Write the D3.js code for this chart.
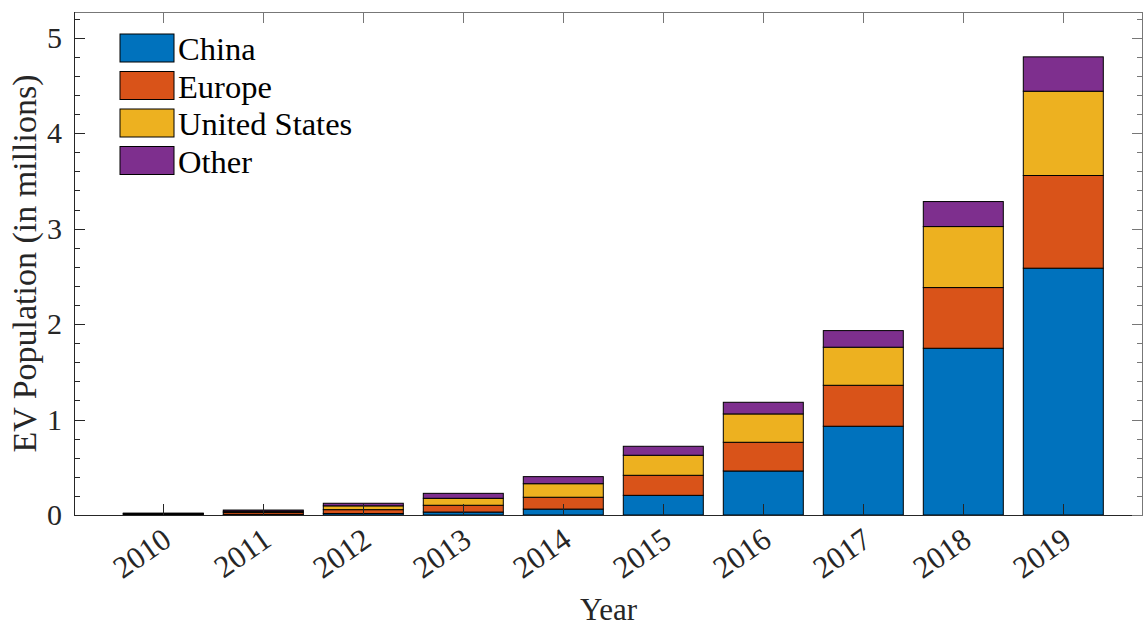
<!DOCTYPE html>
<html>
<head>
<meta charset="utf-8">
<script src="https://cdn.jsdelivr.net/npm/d3@7"></script>
<style>
  body { margin: 0; background: #fff; }
  svg { display: block; font-family: "Liberation Serif", "Times New Roman", serif; }
</style>
</head>
<body>
<svg id="chart" width="1144" height="626"></svg>
<script>
// EV stock by region, millions
const years = [2010, 2011, 2012, 2013, 2014, 2015, 2016, 2017, 2018, 2019];
const china = [0.002, 0.007, 0.016, 0.031, 0.062, 0.206, 0.461, 0.930, 1.747, 2.586];
const europe = [0.010, 0.020, 0.040, 0.071, 0.124, 0.210, 0.301, 0.429, 0.636, 0.971];
const unitedStates = [0.003, 0.012, 0.040, 0.073, 0.142, 0.210, 0.297, 0.399, 0.639, 0.883];
const other = [0.005, 0.013, 0.027, 0.052, 0.074, 0.094, 0.122, 0.174, 0.262, 0.360];
const seriesNames = ["China", "Europe", "United States", "Other"];
const colors = ["#0072BD", "#D95319", "#EDB120", "#7E2F8E"];
const yTicks = [0, 1, 2, 3, 4, 5];

const rows = years.map((yr, i) => ({
  year: yr,
  "China": china[i],
  "Europe": europe[i],
  "United States": unitedStates[i],
  "Other": other[i]
}));

const pLeft = 74, pRight = 1143, pTop = 12, pBottom = 515;
const svg = d3.select("#chart");

const x = d3.scaleLinear().domain([2009.107, 2019.797]).range([pLeft, pRight]);
const y = d3.scaleLinear().domain([0, 5.27]).range([pBottom, pTop]);
const barW = x(2010.8) - x(2010);

const stacked = d3.stack().keys(seriesNames)(rows);

svg.append("g")
  .selectAll("g")
  .data(stacked)
  .join("g")
  .attr("fill", (d, i) => colors[i])
  .selectAll("rect")
  .data(d => d)
  .join("rect")
  .attr("x", d => x(d.data.year) - barW / 2)
  .attr("y", d => y(d[1]))
  .attr("width", barW)
  .attr("height", d => y(d[0]) - y(d[1]))
  .attr("stroke", "#000")
  .attr("stroke-width", 1);

// axes box + ticks (drawn over bars like matlab)
const axisColor = "#262626";
const ax = svg.append("g").attr("stroke", axisColor).attr("stroke-width", 1).attr("fill", "none");
ax.append("rect")
  .attr("x", pLeft + 0.5).attr("y", pTop + 0.5)
  .attr("width", pRight - pLeft - 1).attr("height", pBottom - pTop)
  .attr("stroke", "#777");
ax.append("line").attr("x1", pLeft + 0.5).attr("x2", pLeft + 0.5).attr("y1", pTop).attr("y2", pBottom + 0.5);
ax.append("line").attr("x1", pLeft).attr("x2", pRight).attr("y1", pBottom + 0.5).attr("y2", pBottom + 0.5);

const majLen = 11, minLen = 6;
const minorTicks = d3.range(0, 5.21, 0.2).filter(v => Math.abs(v - Math.round(v)) > 0.01);

yTicks.forEach(v => {
  const yy = Math.round(y(v)) + 0.5;
  ax.append("line").attr("x1", pLeft).attr("x2", pLeft + majLen).attr("y1", yy).attr("y2", yy);
  ax.append("line").attr("x1", pRight).attr("x2", pRight - majLen).attr("y1", yy).attr("y2", yy).attr("stroke", "#777");
});
minorTicks.forEach(v => {
  const yy = Math.round(y(v)) + 0.5;
  ax.append("line").attr("x1", pLeft).attr("x2", pLeft + minLen).attr("y1", yy).attr("y2", yy);
  ax.append("line").attr("x1", pRight).attr("x2", pRight - minLen).attr("y1", yy).attr("y2", yy).attr("stroke", "#777");
});
years.forEach(yr => {
  const xx = Math.round(x(yr)) + 0.5;
  ax.append("line").attr("x1", xx).attr("x2", xx).attr("y1", pBottom).attr("y2", pBottom - majLen);
  ax.append("line").attr("x1", xx).attr("x2", xx).attr("y1", pTop).attr("y2", pTop + majLen).attr("stroke", "#777");
});

// tick labels
svg.append("g")
  .selectAll("text")
  .data(yTicks)
  .join("text")
  .attr("x", pLeft - 12)
  .attr("y", d => y(d) + 10)
  .attr("text-anchor", "end")
  .attr("font-size", 30)
  .attr("fill", "#262626")
  .text(d => d);

svg.append("g")
  .selectAll("text")
  .data(years)
  .join("text")
  .attr("transform", d => `translate(${x(d) + 10},${pBottom + 29}) rotate(-35)`)
  .attr("text-anchor", "end")
  .attr("font-size", 31)
  .attr("fill", "#262626")
  .text(d => d);

// axis titles
svg.append("text")
  .attr("x", (pLeft + pRight) / 2)
  .attr("y", 620)
  .attr("text-anchor", "middle")
  .attr("font-size", 31)
  .attr("fill", "#262626")
  .text("Year");

svg.append("text")
  .attr("transform", `translate(36,${(pTop + pBottom) / 2}) rotate(-90)`)
  .attr("text-anchor", "middle")
  .attr("font-size", 34)
  .attr("fill", "#262626")
  .text("EV Population (in millions)");

// legend
const legend = svg.append("g").attr("transform", "translate(120,34)");
const item = legend.selectAll("g")
  .data(seriesNames)
  .join("g")
  .attr("transform", (d, i) => `translate(0,${i * 37.5})`);
item.append("rect")
  .attr("width", 54).attr("height", 28)
  .attr("fill", (d, i) => colors[i])
  .attr("stroke", "#000").attr("stroke-width", 1);
item.append("text")
  .attr("x", 58).attr("y", 26)
  .attr("font-size", 32.5)
  .attr("fill", "#000")
  .text(d => d);
</script>
</body>
</html>
